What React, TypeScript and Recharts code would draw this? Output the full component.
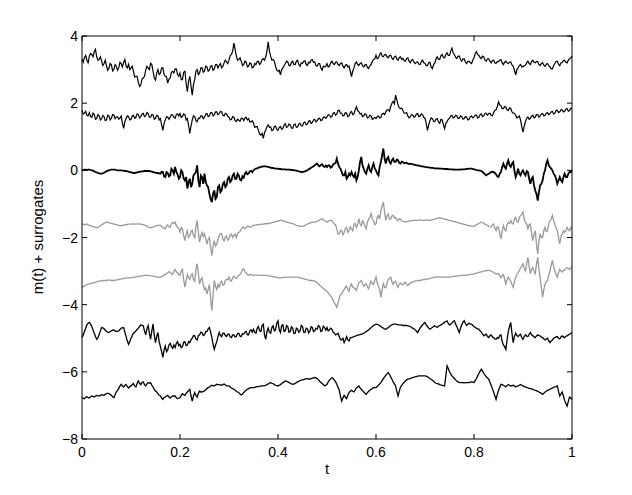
import React from 'react';
import { LineChart, Line, XAxis, YAxis } from 'recharts';

const X_TICKS = [0, 0.2, 0.4, 0.6, 0.8, 1];
const X_LABELS = ['0', '0.2', '0.4', '0.6', '0.8', '1'];
const Y_TICKS = [-8, -6, -4, -2, 0, 2, 4];
const Y_LABELS = ['\u22128', '\u22126', '\u22124', '\u22122', '0', '2', '4'];

// Samples at t = 0, 0.005, ..., 1 (201 values) and in-between samples (200 values)
const S1 = [
  3.30, 3.36, 3.28, 3.40, 3.45, 3.53, 3.38, 3.30, 3.25, 3.18, 3.12, 3.04, 3.14, 3.00, 3.10, 3.05, 3.18, 3.22, 3.10, 3.16,
  3.05, 2.95, 2.80, 2.62, 2.54, 2.75, 2.98, 3.05, 3.19, 2.95, 2.69, 3.00, 2.89, 3.05, 2.80, 2.60, 2.75, 2.95, 3.02, 2.85,
  2.90, 2.70, 2.95, 2.34, 2.80, 2.24, 2.70, 3.00, 2.90, 3.05, 2.95, 3.08, 2.98, 3.12, 3.02, 3.15, 3.13, 3.05, 3.20, 3.23,
  3.28, 3.45, 3.79, 3.40, 3.30, 3.25, 3.15, 3.22, 3.10, 3.18, 3.08, 3.15, 3.25, 3.20, 3.32, 3.38, 3.83, 3.40, 3.30, 3.10,
  2.95, 2.84, 3.05, 3.18, 3.23, 3.12, 3.25, 3.15, 3.28, 3.10, 3.18, 3.26, 3.12, 3.20, 3.30, 3.23, 3.10, 3.18, 2.98, 3.08,
  3.18, 3.10, 3.25, 3.15, 3.23, 3.12, 3.20, 3.05, 3.15, 3.10, 2.79, 3.05, 3.23, 3.12, 3.20, 3.08, 3.15, 3.03, 3.15, 3.30,
  3.43, 3.35, 3.50, 3.38, 3.45, 3.35, 3.43, 3.30, 3.40, 3.28, 3.38, 3.33, 3.25, 3.35, 3.20, 3.30, 3.18, 3.23, 3.15, 3.28,
  3.18, 3.12, 3.22, 3.03, 3.20, 3.38, 3.30, 3.45, 3.35, 3.50, 3.42, 3.64, 3.45, 3.33, 3.40, 3.25, 3.32, 3.18, 3.25, 3.18,
  3.35, 3.53, 3.42, 3.33, 3.38, 3.25, 3.32, 3.20, 3.28, 3.18, 3.23, 3.30, 3.15, 3.25, 3.18, 3.23, 3.10, 2.84, 3.05, 3.15,
  3.08, 3.13, 3.25, 3.15, 3.28, 3.20, 3.23, 3.12, 3.20, 3.10, 3.18, 3.08, 3.02, 3.18, 3.25, 3.12, 3.22, 3.28, 3.20, 3.32, 3.40,
];
const S1_MID = [
  3.22, 3.42, 3.20, 3.48, 3.38, 3.60, 3.28, 3.38, 3.12, 3.28, 2.98, 3.18, 2.96, 3.15, 2.98, 3.22, 3.08, 3.30, 3.05, 3.00,
  3.10, 2.78, 2.80, 2.50, 2.72, 2.80, 3.10, 3.00, 3.15, 2.75, 2.90, 2.85, 3.05, 2.85, 2.78, 2.72, 2.92, 2.90, 3.02, 2.80,
  2.70, 2.92, 2.60, 2.65, 2.50, 2.55, 2.95, 2.85, 3.05, 2.92, 3.10, 2.95, 3.10, 2.98, 3.15, 3.05, 3.18, 3.10, 3.28, 3.18,
  3.42, 3.55, 3.60, 3.28, 3.35, 3.12, 3.25, 3.08, 3.20, 3.05, 3.18, 3.24, 3.15, 3.30, 3.28, 3.55, 3.55, 3.28, 3.25, 2.98,
  2.98, 3.00, 3.12, 3.25, 3.12, 3.22, 3.15, 3.25, 3.15, 3.20, 3.25, 3.15, 3.22, 3.28, 3.22, 3.12, 3.18, 3.05, 3.10, 3.10,
  3.08, 3.20, 3.18, 3.22, 3.15, 3.18, 3.10, 3.13, 3.08, 2.95, 2.95, 3.18, 3.15, 3.18, 3.12, 3.14, 3.06, 3.12, 3.25, 3.32,
  3.32, 3.45, 3.40, 3.44, 3.38, 3.42, 3.34, 3.38, 3.32, 3.36, 3.30, 3.26, 3.33, 3.25, 3.28, 3.22, 3.22, 3.16, 3.24, 3.20,
  3.12, 3.20, 3.08, 3.15, 3.32, 3.30, 3.42, 3.36, 3.45, 3.42, 3.55, 3.50, 3.36, 3.40, 3.30, 3.32, 3.22, 3.24, 3.20, 3.28,
  3.48, 3.45, 3.36, 3.40, 3.28, 3.32, 3.24, 3.27, 3.20, 3.24, 3.28, 3.20, 3.22, 3.20, 3.22, 3.14, 2.98, 3.00, 3.12, 3.08,
  3.12, 3.20, 3.18, 3.24, 3.22, 3.24, 3.15, 3.18, 3.13, 3.16, 3.12, 3.02, 3.12, 3.24, 3.16, 3.20, 3.26, 3.22, 3.28, 3.34,
];

const S2 = [
  1.79, 1.70, 1.64, 1.72, 1.58, 1.66, 1.55, 1.62, 1.54, 1.60, 1.50, 1.62, 1.55, 1.65, 1.59, 1.52, 1.62, 1.25, 1.55, 1.60,
  1.52, 1.64, 1.58, 1.66, 1.60, 1.70, 1.62, 1.69, 1.58, 1.65, 1.55, 1.62, 1.54, 1.19, 1.50, 1.58, 1.59, 1.65, 1.55, 1.68,
  1.69, 1.60, 1.66, 1.54, 1.10, 1.50, 1.60, 1.45, 1.54, 1.62, 1.58, 1.69, 1.62, 1.72, 1.66, 1.74, 1.68, 1.74, 1.62, 1.68,
  1.59, 1.52, 1.58, 1.45, 1.49, 1.55, 1.48, 1.58, 1.54, 1.45, 1.40, 1.30, 1.19, 1.05, 0.95, 1.20, 1.35, 1.29, 1.20, 1.32,
  1.19, 1.30, 1.25, 1.39, 1.30, 1.35, 1.25, 1.38, 1.29, 1.40, 1.32, 1.44, 1.38, 1.48, 1.42, 1.52, 1.48, 1.55, 1.50, 1.59,
  1.59, 1.65, 1.60, 1.72, 1.68, 1.79, 1.70, 1.64, 1.70, 1.62, 1.75, 1.68, 1.89, 1.75, 1.70, 1.62, 1.66, 1.58, 1.62, 1.54,
  1.54, 1.62, 1.58, 1.70, 1.74, 1.80, 1.90, 2.05, 2.24, 1.95, 1.84, 1.78, 1.70, 1.62, 1.59, 1.65, 1.60, 1.69, 1.62, 1.66,
  1.55, 1.19, 1.48, 1.54, 1.45, 1.54, 1.40, 1.50, 1.24, 1.45, 1.55, 1.64, 1.58, 1.62, 1.55, 1.60, 1.54, 1.58, 1.52, 1.62,
  1.59, 1.65, 1.58, 1.68, 1.62, 1.70, 1.69, 1.64, 1.72, 1.80, 2.04, 1.92, 1.84, 1.88, 1.78, 1.84, 1.70, 1.64, 1.59, 1.50,
  1.14, 1.45, 1.59, 1.55, 1.64, 1.58, 1.66, 1.62, 1.69, 1.64, 1.72, 1.68, 1.76, 1.70, 1.79, 1.74, 1.80, 1.76, 1.84, 1.78, 1.84,
];
const S2_MID = [
  1.68, 1.76, 1.62, 1.60, 1.70, 1.52, 1.66, 1.50, 1.63, 1.48, 1.64, 1.50, 1.66, 1.54, 1.60, 1.56, 1.40, 1.45, 1.62, 1.50,
  1.62, 1.55, 1.68, 1.56, 1.68, 1.60, 1.72, 1.58, 1.66, 1.52, 1.64, 1.50, 1.35, 1.40, 1.60, 1.52, 1.66, 1.58, 1.66, 1.62,
  1.58, 1.68, 1.50, 1.35, 1.32, 1.62, 1.48, 1.55, 1.62, 1.54, 1.68, 1.60, 1.72, 1.62, 1.74, 1.66, 1.76, 1.64, 1.70, 1.60,
  1.50, 1.60, 1.48, 1.52, 1.46, 1.55, 1.56, 1.50, 1.44, 1.48, 1.28, 1.30, 1.08, 1.10, 1.12, 1.30, 1.28, 1.18, 1.30, 1.22,
  1.28, 1.22, 1.35, 1.28, 1.38, 1.26, 1.36, 1.28, 1.38, 1.32, 1.42, 1.36, 1.46, 1.40, 1.50, 1.44, 1.54, 1.48, 1.58, 1.55,
  1.66, 1.58, 1.70, 1.64, 1.78, 1.70, 1.62, 1.72, 1.60, 1.72, 1.66, 1.80, 1.78, 1.68, 1.60, 1.68, 1.56, 1.64, 1.52, 1.58,
  1.60, 1.56, 1.68, 1.66, 1.80, 1.76, 2.00, 1.98, 2.10, 1.86, 1.85, 1.70, 1.72, 1.56, 1.66, 1.58, 1.68, 1.60, 1.68, 1.58,
  1.40, 1.35, 1.56, 1.46, 1.52, 1.44, 1.52, 1.36, 1.40, 1.52, 1.62, 1.56, 1.64, 1.54, 1.62, 1.52, 1.60, 1.50, 1.60, 1.56,
  1.64, 1.56, 1.66, 1.60, 1.70, 1.64, 1.70, 1.62, 1.78, 1.90, 1.95, 1.84, 1.90, 1.80, 1.86, 1.74, 1.70, 1.56, 1.62, 1.30,
  1.32, 1.55, 1.52, 1.62, 1.56, 1.66, 1.58, 1.68, 1.62, 1.70, 1.66, 1.74, 1.68, 1.78, 1.72, 1.80, 1.74, 1.82, 1.76, 1.85,
];

const S3 = [
  0.00, 0.02, 0.01, 0.02, 0.00, -0.03, -0.06, -0.09, -0.10, -0.07, -0.03, 0.00, 0.02, 0.02, 0.01, 0.00, 0.00, -0.01, -0.02, -0.04,
  -0.06, -0.08, -0.07, -0.05, -0.04, -0.03, -0.02, -0.02, -0.03, -0.05, -0.07, -0.08, -0.10, -0.05, -0.20, -0.08, -0.15, 0.00, 0.10, -0.12,
  -0.20, -0.05, -0.30, -0.54, -0.25, -0.40, -0.10, 0.15, -0.50, -0.20, -0.10, -0.45, -0.70, -0.95, -0.60, -0.80, -0.45, -0.60, -0.35, -0.45,
  -0.20, -0.30, -0.10, -0.25, -0.15, -0.30, -0.22, -0.05, -0.10, -0.02, 0.00, 0.05, 0.08, 0.10, 0.12, 0.12, 0.10, 0.08, 0.07, 0.05,
  0.05, 0.04, 0.03, 0.03, 0.02, 0.02, 0.01, 0.00, -0.02, -0.04, -0.05, -0.03, 0.00, 0.05, 0.10, 0.15, 0.20, 0.12, 0.18, 0.10,
  0.10, 0.15, 0.10, 0.20, 0.35, 0.10, -0.05, -0.15, -0.25, -0.10, -0.05, -0.20, -0.30, 0.00, 0.40, 0.05, -0.10, 0.15, -0.05, 0.20,
  0.00, -0.15, 0.25, 0.65, 0.20, 0.40, 0.20, 0.35, 0.25, 0.30, 0.20, 0.25, 0.22, 0.20, 0.20, 0.18, 0.16, 0.15, 0.13, 0.12,
  0.10, 0.09, 0.08, 0.07, 0.06, 0.06, 0.05, 0.05, 0.04, 0.04, 0.03, 0.03, 0.02, 0.02, 0.02, 0.03, 0.03, 0.04, 0.05, 0.05,
  0.03, 0.01, 0.00, -0.02, -0.08, -0.15, -0.10, -0.05, -0.05, -0.12, -0.20, -0.05, 0.20, 0.05, 0.30, 0.10, 0.25, -0.20, 0.05, -0.15,
  0.00, -0.15, -0.05, -0.40, -0.20, -0.60, -0.90, -0.45, -0.30, 0.00, 0.30, 0.10, 0.00, -0.15, -0.40, -0.20, -0.35, -0.10, -0.20, -0.05, 0.00,
];
const S3_MID = [
  0.01, 0.02, 0.02, 0.01, -0.01, -0.05, -0.08, -0.10, -0.09, -0.05, -0.01, 0.01, 0.02, 0.02, 0.00, 0.00, -0.01, -0.02, -0.03, -0.05,
  -0.07, -0.08, -0.06, -0.04, -0.03, -0.02, -0.02, -0.02, -0.04, -0.06, -0.08, -0.09, -0.04, -0.18, -0.05, -0.18, 0.05, -0.10, -0.05, -0.25,
  0.00, -0.25, -0.20, -0.35, -0.50, -0.15, -0.05, -0.30, -0.15, -0.40, -0.35, -0.50, -0.85, -0.70, -0.85, -0.50, -0.65, -0.40, -0.50, -0.25,
  -0.35, -0.15, -0.25, -0.10, -0.28, -0.18, -0.10, -0.12, -0.03, -0.06, 0.03, 0.06, 0.09, 0.11, 0.12, 0.11, 0.09, 0.07, 0.06, 0.05,
  0.04, 0.03, 0.03, 0.02, 0.02, 0.01, 0.00, -0.01, -0.03, -0.05, -0.04, -0.01, 0.03, 0.08, 0.12, 0.18, 0.14, 0.16, 0.12, 0.14,
  0.15, 0.08, 0.18, 0.22, 0.20, 0.05, -0.15, -0.05, -0.20, -0.15, -0.15, -0.10, -0.20, 0.25, 0.15, -0.05, 0.05, 0.00, 0.10, 0.05,
  -0.10, 0.10, 0.45, 0.35, 0.35, 0.25, 0.30, 0.25, 0.32, 0.22, 0.26, 0.21, 0.22, 0.19, 0.19, 0.17, 0.15, 0.14, 0.12, 0.11,
  0.095, 0.085, 0.075, 0.065, 0.06, 0.055, 0.05, 0.045, 0.04, 0.035, 0.03, 0.025, 0.02, 0.02, 0.025, 0.03, 0.035, 0.045, 0.05, 0.04,
  0.02, 0.00, -0.01, -0.05, -0.12, -0.12, -0.08, -0.05, -0.08, -0.18, -0.10, 0.10, 0.10, 0.20, 0.15, 0.20, 0.00, -0.10, -0.10, -0.05,
  -0.10, -0.02, -0.25, -0.25, -0.45, -0.70, -0.65, -0.40, -0.10, 0.20, 0.15, 0.05, -0.10, -0.25, -0.30, -0.30, -0.20, -0.20, -0.10, -0.05,
];

const S4 = [
  -1.59, -1.62, -1.60, -1.64, -1.66, -1.68, -1.71, -1.68, -1.62, -1.58, -1.54, -1.56, -1.58, -1.60, -1.62, -1.64, -1.65, -1.63, -1.62, -1.60,
  -1.60, -1.59, -1.60, -1.59, -1.60, -1.62, -1.65, -1.68, -1.71, -1.69, -1.66, -1.64, -1.64, -1.70, -1.74, -1.62, -1.70, -1.55, -1.54, -1.70,
  -1.84, -1.75, -2.09, -1.80, -1.95, -1.79, -2.00, -1.49, -2.14, -1.85, -1.89, -2.20, -2.00, -2.54, -2.09, -2.20, -1.95, -1.89, -2.10, -1.95,
  -2.04, -1.90, -1.94, -2.00, -1.85, -1.75, -1.69, -1.72, -1.66, -1.68, -1.64, -1.63, -1.62, -1.61, -1.60, -1.59, -1.59, -1.57, -1.55, -1.53,
  -1.51, -1.49, -1.50, -1.53, -1.55, -1.57, -1.59, -1.62, -1.65, -1.67, -1.67, -1.64, -1.60, -1.57, -1.55, -1.54, -1.52, -1.48, -1.44, -1.50,
  -1.54, -1.50, -1.49, -1.60, -1.75, -1.89, -1.80, -1.85, -1.70, -1.80, -1.74, -1.60, -1.70, -1.44, -1.65, -1.55, -1.74, -1.45, -1.29, -1.50,
  -1.59, -1.35, -1.20, -0.95, -1.49, -1.30, -1.45, -1.34, -1.40, -1.50, -1.46, -1.52, -1.54, -1.52, -1.51, -1.50, -1.49, -1.49, -1.48, -1.49,
  -1.49, -1.48, -1.49, -1.47, -1.45, -1.43, -1.41, -1.43, -1.45, -1.47, -1.49, -1.51, -1.53, -1.55, -1.57, -1.59, -1.61, -1.63, -1.65, -1.66,
  -1.67, -1.62, -1.58, -1.54, -1.58, -1.62, -1.66, -1.69, -1.60, -1.80, -1.70, -2.04, -1.64, -1.80, -1.55, -1.49, -1.60, -1.40, -1.55, -1.35,
  -1.24, -1.55, -1.74, -1.60, -2.09, -1.80, -2.49, -1.89, -2.00, -1.70, -1.80, -1.50, -1.34, -1.60, -1.79, -2.19, -1.90, -1.85, -1.70, -1.80, -1.74,
];
const S4_MID = [
  -1.60, -1.61, -1.62, -1.65, -1.67, -1.70, -1.70, -1.65, -1.60, -1.56, -1.55, -1.57, -1.59, -1.61, -1.63, -1.65, -1.64, -1.62, -1.61, -1.60,
  -1.60, -1.60, -1.60, -1.60, -1.61, -1.63, -1.66, -1.70, -1.70, -1.68, -1.65, -1.64, -1.67, -1.72, -1.66, -1.68, -1.60, -1.58, -1.65, -1.72,
  -1.70, -1.95, -1.90, -2.00, -1.82, -1.95, -1.70, -1.85, -1.95, -1.98, -2.05, -2.05, -2.30, -2.25, -2.25, -2.05, -1.88, -2.05, -1.98, -2.08,
  -1.92, -2.00, -1.90, -1.88, -1.82, -1.70, -1.74, -1.66, -1.70, -1.65, -1.63, -1.62, -1.61, -1.60, -1.59, -1.59, -1.58, -1.56, -1.54, -1.52,
  -1.50, -1.49, -1.52, -1.54, -1.56, -1.58, -1.60, -1.64, -1.66, -1.67, -1.66, -1.62, -1.58, -1.56, -1.54, -1.53, -1.50, -1.46, -1.47, -1.52,
  -1.52, -1.49, -1.56, -1.62, -1.90, -1.78, -1.92, -1.72, -1.85, -1.68, -1.80, -1.58, -1.62, -1.60, -1.50, -1.68, -1.55, -1.40, -1.45, -1.62,
  -1.40, -1.45, -1.05, -1.25, -1.35, -1.45, -1.35, -1.42, -1.48, -1.44, -1.50, -1.53, -1.53, -1.51, -1.50, -1.49, -1.49, -1.48, -1.48, -1.49,
  -1.48, -1.48, -1.48, -1.46, -1.44, -1.42, -1.42, -1.44, -1.46, -1.48, -1.50, -1.52, -1.54, -1.56, -1.58, -1.60, -1.62, -1.64, -1.65, -1.66,
  -1.64, -1.60, -1.56, -1.56, -1.60, -1.64, -1.68, -1.62, -1.72, -1.68, -1.88, -1.80, -1.76, -1.62, -1.58, -1.58, -1.45, -1.52, -1.40, -1.32,
  -1.45, -1.60, -1.62, -1.88, -1.90, -2.20, -2.10, -2.00, -1.80, -1.82, -1.60, -1.45, -1.50, -1.72, -2.00, -1.98, -1.80, -1.80, -1.78, -1.70,
];

const S5 = [
  -3.48, -3.45, -3.40, -3.38, -3.36, -3.34, -3.32, -3.30, -3.29, -3.28, -3.28, -3.27, -3.28, -3.28, -3.27, -3.25, -3.24, -3.22, -3.21, -3.20,
  -3.20, -3.19, -3.18, -3.16, -3.15, -3.14, -3.13, -3.13, -3.14, -3.15, -3.17, -3.18, -3.18, -3.15, -3.10, -3.05, -3.03, -3.10, -2.95, -3.05,
  -3.13, -2.95, -3.48, -3.10, -3.25, -3.08, -3.30, -2.78, -3.38, -3.20, -3.55, -3.68, -3.40, -4.18, -3.28, -3.55, -3.48, -3.30, -3.40, -3.25,
  -3.18, -3.30, -3.15, -3.22, -3.13, -3.05, -2.93, -3.05, -3.13, -3.10, -3.13, -3.12, -3.12, -3.13, -3.13, -3.13, -3.14, -3.15, -3.17, -3.18,
  -3.20, -3.20, -3.19, -3.19, -3.18, -3.18, -3.18, -3.18, -3.18, -3.20, -3.22, -3.24, -3.26, -3.28, -3.28, -3.30, -3.35, -3.42, -3.48, -3.55,
  -3.60, -3.70, -3.78, -3.95, -4.08, -3.80, -3.68, -3.55, -3.45, -3.60, -3.38, -3.50, -3.58, -3.35, -3.28, -3.45, -3.38, -3.53, -3.30, -3.40,
  -3.18, -3.45, -3.78, -3.38, -3.50, -3.25, -3.18, -3.40, -3.30, -3.48, -3.35, -3.40, -3.33, -3.43, -3.36, -3.32, -3.30, -3.28, -3.28, -3.26,
  -3.25, -3.24, -3.22, -3.20, -3.18, -3.18, -3.17, -3.18, -3.18, -3.18, -3.18, -3.17, -3.16, -3.15, -3.14, -3.13, -3.13, -3.12, -3.11, -3.10,
  -3.08, -3.06, -3.04, -3.02, -3.00, -2.99, -2.98, -3.00, -3.05, -3.08, -3.08, -3.20, -3.10, -3.38, -3.18, -3.30, -3.48, -3.20, -3.05, -2.90,
  -2.78, -3.00, -2.59, -3.08, -2.90, -3.08, -2.59, -3.20, -3.78, -3.40, -3.28, -3.00, -2.68, -3.00, -3.18, -2.95, -3.03, -2.98, -2.90, -2.95, -2.88,
];
const S5_MID = [
  -3.46, -3.42, -3.39, -3.37, -3.35, -3.33, -3.31, -3.29, -3.28, -3.28, -3.27, -3.27, -3.28, -3.27, -3.26, -3.24, -3.23, -3.21, -3.20, -3.20,
  -3.19, -3.18, -3.17, -3.15, -3.14, -3.13, -3.13, -3.13, -3.14, -3.16, -3.17, -3.18, -3.16, -3.12, -3.08, -3.02, -3.08, -3.00, -3.02, -3.10,
  -3.00, -3.25, -3.30, -3.20, -3.12, -3.25, -2.95, -3.10, -3.25, -3.40, -3.50, -3.55, -3.80, -3.70, -3.45, -3.40, -3.35, -3.42, -3.28, -3.25,
  -3.28, -3.20, -3.20, -3.15, -3.10, -2.96, -3.02, -3.10, -3.10, -3.12, -3.12, -3.12, -3.12, -3.13, -3.13, -3.13, -3.14, -3.16, -3.17, -3.19,
  -3.20, -3.20, -3.19, -3.18, -3.18, -3.18, -3.18, -3.18, -3.19, -3.21, -3.23, -3.25, -3.27, -3.28, -3.29, -3.32, -3.38, -3.45, -3.52, -3.58,
  -3.65, -3.75, -3.88, -4.00, -3.95, -3.70, -3.60, -3.48, -3.55, -3.45, -3.48, -3.52, -3.45, -3.32, -3.38, -3.40, -3.48, -3.40, -3.38, -3.28,
  -3.35, -3.55, -3.55, -3.48, -3.35, -3.22, -3.32, -3.32, -3.42, -3.38, -3.40, -3.35, -3.40, -3.38, -3.34, -3.31, -3.29, -3.28, -3.27, -3.25,
  -3.24, -3.23, -3.21, -3.19, -3.18, -3.17, -3.17, -3.18, -3.18, -3.18, -3.17, -3.16, -3.15, -3.14, -3.13, -3.13, -3.12, -3.11, -3.10, -3.09,
  -3.07, -3.05, -3.03, -3.01, -2.99, -2.98, -2.99, -3.02, -3.06, -3.08, -3.14, -3.12, -3.25, -3.25, -3.25, -3.40, -3.32, -3.10, -2.98, -2.85,
  -2.92, -2.78, -2.85, -2.95, -3.00, -2.80, -2.95, -3.50, -3.55, -3.30, -3.12, -2.82, -2.85, -3.10, -3.05, -3.00, -2.98, -2.92, -2.93, -2.90,
];

const S6 = [
  -4.98, -4.80, -4.60, -4.53, -4.65, -4.85, -5.03, -4.90, -4.68, -4.72, -4.80, -4.83, -4.78, -4.75, -4.80, -4.78, -4.70, -4.68, -4.95, -5.18,
  -5.00, -4.85, -4.78, -4.70, -4.60, -4.63, -4.90, -4.62, -5.03, -4.58, -5.13, -4.83, -5.25, -5.57, -5.23, -5.35, -5.15, -5.30, -5.28, -5.10,
  -5.18, -5.25, -5.10, -5.20, -5.13, -5.00, -4.93, -5.05, -4.90, -4.83, -4.90, -4.80, -4.68, -4.98, -5.33, -5.10, -4.83, -4.95, -4.85, -4.95,
  -4.88, -4.98, -4.90, -4.95, -4.85, -4.95, -4.88, -4.80, -4.90, -4.75, -4.73, -4.85, -4.65, -4.80, -4.58, -5.03, -4.70, -4.85, -4.63, -4.75,
  -4.48, -4.83, -4.60, -4.78, -4.65, -4.80, -4.70, -4.85, -4.73, -4.78, -4.65, -4.83, -4.72, -4.80, -4.68, -4.78, -4.73, -4.65, -4.78, -4.68,
  -4.68, -4.75, -4.73, -4.85, -4.88, -4.95, -5.05, -5.13, -4.95, -5.08, -4.98, -4.95, -4.92, -4.90, -4.88, -4.85, -4.80, -4.75, -4.68, -4.62,
  -4.58, -4.60, -4.65, -4.70, -4.73, -4.68, -4.62, -4.58, -4.58, -4.60, -4.60, -4.62, -4.62, -4.63, -4.65, -4.70, -4.75, -4.83, -4.70, -4.60,
  -4.53, -4.65, -4.73, -4.68, -4.63, -4.68, -4.62, -4.58, -4.52, -4.48, -4.60, -4.55, -4.48, -4.65, -4.83, -4.60, -4.48, -4.62, -4.55, -4.58,
  -4.65, -4.70, -4.73, -4.82, -4.93, -4.88, -4.98, -4.90, -4.98, -5.03, -5.00, -4.90, -5.20, -5.33, -4.80, -4.53, -5.13, -4.85, -4.95, -4.88,
  -5.03, -4.90, -4.95, -4.83, -4.92, -4.98, -4.90, -4.93, -4.98, -5.05, -5.00, -5.13, -5.05, -4.98, -4.95, -5.02, -4.93, -4.98, -4.93, -4.88, -4.83,
];
const S6_MID = [
  -4.90, -4.70, -4.55, -4.58, -4.75, -4.95, -4.98, -4.78, -4.69, -4.76, -4.82, -4.80, -4.76, -4.78, -4.79, -4.74, -4.69, -4.82, -5.08, -5.10,
  -4.92, -4.82, -4.74, -4.65, -4.62, -4.78, -4.72, -4.85, -4.78, -4.90, -4.95, -5.10, -5.40, -5.35, -5.40, -5.20, -5.25, -5.20, -5.15, -5.22,
  -5.28, -5.12, -5.22, -5.10, -5.05, -4.92, -5.02, -4.92, -4.82, -4.92, -4.80, -4.72, -4.82, -5.18, -5.20, -4.95, -4.92, -4.85, -4.92, -4.88,
  -4.96, -4.90, -4.96, -4.86, -4.94, -4.86, -4.82, -4.90, -4.78, -4.82, -4.82, -4.70, -4.78, -4.62, -4.90, -4.80, -4.82, -4.68, -4.78, -4.55,
  -4.75, -4.62, -4.80, -4.62, -4.82, -4.66, -4.86, -4.70, -4.82, -4.62, -4.82, -4.70, -4.84, -4.66, -4.80, -4.70, -4.62, -4.80, -4.64, -4.76,
  -4.78, -4.70, -4.82, -4.90, -4.85, -5.05, -5.00, -5.05, -5.05, -4.98, -4.97, -4.94, -4.91, -4.89, -4.87, -4.83, -4.78, -4.72, -4.65, -4.60,
  -4.59, -4.62, -4.68, -4.72, -4.71, -4.65, -4.60, -4.58, -4.59, -4.60, -4.61, -4.62, -4.62, -4.64, -4.68, -4.72, -4.79, -4.76, -4.65, -4.56,
  -4.60, -4.70, -4.70, -4.65, -4.66, -4.64, -4.60, -4.55, -4.50, -4.56, -4.58, -4.50, -4.58, -4.75, -4.70, -4.52, -4.56, -4.58, -4.58, -4.62,
  -4.68, -4.72, -4.78, -4.88, -4.90, -4.95, -4.92, -4.96, -5.02, -4.98, -4.92, -5.10, -5.25, -5.05, -4.65, -4.85, -4.95, -4.92, -4.90, -4.98,
  -4.95, -4.94, -4.88, -4.90, -4.96, -4.93, -4.92, -4.97, -5.02, -5.02, -5.08, -5.08, -5.00, -4.96, -5.00, -4.96, -4.96, -4.94, -4.90, -4.85,
];

const S7 = [
  -6.77, -6.80, -6.74, -6.78, -6.72, -6.75, -6.70, -6.72, -6.68, -6.70, -6.65, -6.64, -6.70, -6.77, -6.60, -6.50, -6.37, -6.45, -6.38, -6.48,
  -6.42, -6.35, -6.45, -6.27, -6.38, -6.30, -6.42, -6.32, -6.32, -6.45, -6.57, -6.65, -6.72, -6.82, -6.75, -6.70, -6.78, -6.72, -6.72, -6.80,
  -6.77, -6.65, -6.70, -6.60, -6.52, -6.87, -6.62, -6.75, -6.57, -6.60, -6.57, -6.50, -6.45, -6.40, -6.42, -6.37, -6.38, -6.40, -6.36, -6.42,
  -6.42, -6.48, -6.52, -6.58, -6.62, -6.69, -6.62, -6.55, -6.50, -6.47, -6.47, -6.45, -6.44, -6.42, -6.42, -6.40, -6.36, -6.32, -6.35, -6.40,
  -6.42, -6.38, -6.32, -6.27, -6.30, -6.34, -6.37, -6.35, -6.30, -6.26, -6.24, -6.22, -6.20, -6.22, -6.19, -6.17, -6.20, -6.28, -6.35, -6.42,
  -6.37, -6.25, -6.17, -6.25, -6.37, -6.55, -6.87, -6.70, -6.80, -6.62, -6.55, -6.60, -6.48, -6.42, -6.52, -6.60, -6.67, -6.58, -6.52, -6.47,
  -6.47, -6.40, -6.32, -6.20, -6.10, -6.02, -6.15, -6.30, -6.42, -6.72, -6.45, -6.35, -6.27, -6.22, -6.20, -6.17, -6.15, -6.13, -6.12, -6.12,
  -6.12, -6.15, -6.20, -6.25, -6.32, -6.35, -6.38, -6.40, -6.42, -5.82, -6.00, -6.12, -6.20, -6.28, -6.32, -6.32, -6.33, -6.32, -6.32, -6.30,
  -6.32, -6.20, -6.05, -5.92, -6.05, -6.15, -6.22, -6.40, -6.60, -6.82, -6.55, -6.37, -6.40, -6.45, -6.38, -6.42, -6.40, -6.45, -6.42, -6.38,
  -6.42, -6.45, -6.48, -6.50, -6.52, -6.55, -6.58, -6.62, -6.67, -6.60, -6.55, -6.52, -6.48, -6.45, -6.42, -6.72, -6.60, -6.85, -7.02, -6.75, -6.82,
];
const S7_MID = [
  -6.79, -6.76, -6.77, -6.74, -6.74, -6.72, -6.71, -6.70, -6.69, -6.67, -6.64, -6.68, -6.74, -6.68, -6.55, -6.42, -6.42, -6.40, -6.44, -6.44,
  -6.38, -6.42, -6.35, -6.34, -6.32, -6.38, -6.36, -6.34, -6.40, -6.52, -6.60, -6.70, -6.78, -6.76, -6.72, -6.75, -6.74, -6.72, -6.77, -6.78,
  -6.70, -6.68, -6.64, -6.56, -6.72, -6.72, -6.70, -6.64, -6.60, -6.58, -6.53, -6.47, -6.42, -6.41, -6.39, -6.38, -6.39, -6.38, -6.39, -6.42,
  -6.45, -6.50, -6.55, -6.60, -6.66, -6.66, -6.58, -6.52, -6.48, -6.47, -6.46, -6.44, -6.43, -6.42, -6.41, -6.38, -6.34, -6.34, -6.38, -6.41,
  -6.40, -6.35, -6.30, -6.28, -6.32, -6.36, -6.36, -6.32, -6.28, -6.25, -6.23, -6.21, -6.21, -6.20, -6.18, -6.18, -6.24, -6.32, -6.38, -6.40,
  -6.30, -6.21, -6.20, -6.30, -6.46, -6.72, -6.78, -6.75, -6.70, -6.58, -6.58, -6.54, -6.45, -6.48, -6.56, -6.64, -6.62, -6.55, -6.50, -6.47,
  -6.44, -6.36, -6.26, -6.15, -6.06, -6.08, -6.22, -6.36, -6.58, -6.58, -6.40, -6.31, -6.24, -6.21, -6.18, -6.16, -6.14, -6.12, -6.12, -6.12,
  -6.13, -6.17, -6.22, -6.28, -6.34, -6.36, -6.39, -6.41, -6.12, -5.90, -6.06, -6.16, -6.24, -6.30, -6.32, -6.32, -6.32, -6.32, -6.31, -6.31,
  -6.26, -6.12, -5.98, -5.98, -6.10, -6.18, -6.31, -6.50, -6.71, -6.68, -6.46, -6.38, -6.42, -6.41, -6.40, -6.41, -6.42, -6.43, -6.40, -6.40,
  -6.44, -6.46, -6.49, -6.51, -6.54, -6.56, -6.60, -6.64, -6.64, -6.58, -6.54, -6.50, -6.46, -6.44, -6.58, -6.66, -6.72, -6.94, -6.88, -6.78,
];

const SERIES = [
  { key: 's1', values: S1, mids: S1_MID, color: '#000000', width: 1.2 },
  { key: 's2', values: S2, mids: S2_MID, color: '#000000', width: 1.2 },
  { key: 's3', values: S3, mids: S3_MID, color: '#000000', width: 1.8 },
  { key: 's4', values: S4, mids: S4_MID, color: '#999999', width: 1.3 },
  { key: 's5', values: S5, mids: S5_MID, color: '#999999', width: 1.3 },
  { key: 's6', values: S6, mids: S6_MID, color: '#000000', width: 1.3 },
  { key: 's7', values: S7, mids: S7_MID, color: '#000000', width: 1.3 },
];

// interleave main samples with in-between samples
const weave = (v: number[], m: number[]) => {
  const out: number[] = [];
  v.forEach((x, i) => {
    out.push(x);
    if (i < m.length) out.push(m[i]);
  });
  return out;
};

const WOVEN = SERIES.map((s) => weave(s.values, s.mids));
const M = WOVEN[0].length;
const data = WOVEN[0].map((_, j) => {
  const row: Record<string, number> = { t: j / (M - 1) };
  SERIES.forEach((s, k) => {
    row[s.key] = WOVEN[k][j];
  });
  return row;
});

const FONT = '"Liberation Sans", Arial, Helvetica, sans-serif';

const xLabel = (v: number) => X_LABELS[X_TICKS.indexOf(v)] ?? String(v);
const yLabel = (v: number) => Y_LABELS[Y_TICKS.indexOf(v)] ?? String(v);

const BottomTick = (props: any) => {
  const { x, y, payload } = props;
  return (
    <g>
      <line x1={x} y1={y} x2={x} y2={y - 5} stroke="#000" strokeWidth={1} />
      <text x={x} y={y + 18} textAnchor="middle" fontSize={14} fontFamily={FONT} fill="#000">
        {xLabel(payload.value)}
      </text>
    </g>
  );
};

const TopTick = (props: any) => {
  const { x, y } = props;
  return <line x1={x} y1={y} x2={x} y2={y + 5} stroke="#000" strokeWidth={1} />;
};

const LeftTick = (props: any) => {
  const { x, y, payload } = props;
  return (
    <g>
      <line x1={x} y1={y} x2={x + 5} y2={y} stroke="#000" strokeWidth={1} />
      <text x={x - 4} y={y + 5} textAnchor="end" fontSize={14} fontFamily={FONT} fill="#000">
        {yLabel(payload.value)}
      </text>
    </g>
  );
};

const RightTick = (props: any) => {
  const { x, y } = props;
  return <line x1={x} y1={y} x2={x - 5} y2={y} stroke="#000" strokeWidth={1} />;
};

export default function App() {
  return (
    <div style={{ position: 'absolute', left: 0, top: 0, width: 632, height: 495, background: '#fff' }}>
      <LineChart width={632} height={495} data={data} margin={{ top: 35, right: 59, bottom: 0, left: 0 }}>
        <XAxis
          xAxisId="top"
          orientation="top"
          dataKey="t"
          type="number"
          domain={[0, 1]}
          ticks={X_TICKS}
          interval={0}
          height={1}
          tickSize={0}
          tickMargin={0}
          tick={<TopTick />}
          axisLine={{ stroke: '#000' }}
          tickLine={false}
        />
        <XAxis
          xAxisId="bottom"
          orientation="bottom"
          dataKey="t"
          type="number"
          domain={[0, 1]}
          ticks={X_TICKS}
          interval={0}
          height={56}
          tickSize={0}
          tickMargin={0}
          tick={<BottomTick />}
          axisLine={{ stroke: '#000' }}
          tickLine={false}
        />
        <YAxis
          yAxisId="left"
          orientation="left"
          type="number"
          domain={[-8, 4]}
          ticks={Y_TICKS}
          interval={0}
          width={82}
          tickSize={0}
          tickMargin={0}
          tick={<LeftTick />}
          axisLine={{ stroke: '#000' }}
          tickLine={false}
        />
        <YAxis
          yAxisId="right"
          orientation="right"
          type="number"
          domain={[-8, 4]}
          ticks={Y_TICKS}
          interval={0}
          width={1}
          tickSize={0}
          tickMargin={0}
          tick={<RightTick />}
          axisLine={{ stroke: '#000' }}
          tickLine={false}
        />
        {SERIES.map((s) => (
          <Line
            key={s.key}
            xAxisId="bottom"
            yAxisId="left"
            dataKey={s.key}
            type="linear"
            stroke={s.color}
            strokeWidth={s.width}
            strokeLinejoin="miter"
            dot={false}
            activeDot={false}
            isAnimationActive={false}
          />
        ))}
        <Line
          xAxisId="top"
          yAxisId="right"
          dataKey="s3"
          stroke="none"
          strokeWidth={0}
          dot={false}
          activeDot={false}
          isAnimationActive={false}
          legendType="none"
        />
      </LineChart>
      <svg
        width={632}
        height={495}
        style={{ position: 'absolute', left: 0, top: 0, pointerEvents: 'none' }}
      >
        <text x={327} y={474} textAnchor="middle" fontSize={15} fontFamily={FONT} fill="#000">
          t
        </text>
        <text
          transform="translate(43,237) rotate(-90)"
          textAnchor="middle"
          fontSize={15}
          fontFamily={FONT}
          fill="#000"
        >
          m(t) + surrogates
        </text>
      </svg>
    </div>
  );
}
